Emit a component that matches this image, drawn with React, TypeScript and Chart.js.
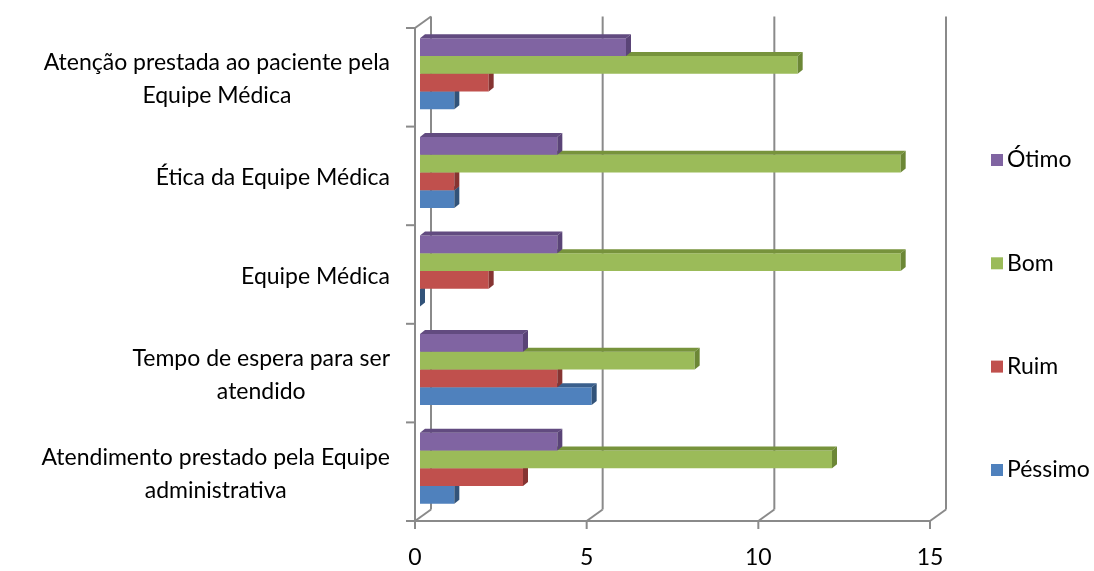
import React, { useEffect, useRef } from "react";
import { Chart, registerables } from "chart.js";

Chart.register(...registerables);

// ---- data ----
const categories: string[][] = [
  ["Atenção prestada ao paciente pela", "Equipe Médica"],
  ["Ética da Equipe Médica"],
  ["Equipe Médica"],
  ["Tempo de espera para ser", "atendido"],
  ["Atendimento prestado pela Equipe", "administrativa"],
];
const seriesNames = ["Ótimo", "Bom", "Ruim", "Péssimo"];
const otimo = [6, 4, 4, 3, 4];
const bom = [11, 14, 14, 8, 12];
const ruim = [2, 1, 2, 4, 3];
const pessimo = [1, 1, 0, 5, 1];
const xTicks = [0, 5, 10, 15];

// ---- styles ----
const frontColors = ["#8064A2", "#9BBB59", "#C0504D", "#4F81BD"];
const topColors = ["#624B80", "#77933C", "#943C3A", "#3A5F8C"];
const sideColors = ["#5A4477", "#6C8736", "#863432", "#325379"];
const FONT = "Lato";
const FONT_SIZE = 23;
const GRID = "#8a8a8a";
const FRONT = { dx: -5, dy: 3.5 };
const BACK = { dx: 11, dy: -8 };
const DEPTH = { dx: 5, dy: -4 };

const decor = {
  id: "decor3d",
  beforeDatasetsDraw(chart: any) {
    const { ctx, chartArea: ca, scales } = chart;
    const xs = scales.x;
    ctx.save();
    ctx.strokeStyle = GRID;
    ctx.lineWidth = 2;
    ctx.lineCap = "butt";
    const fTop = ca.top + FRONT.dy;
    const fBot = ca.bottom + FRONT.dy;
    const bTop = ca.top + BACK.dy;
    const bBot = ca.bottom + BACK.dy;
    const line = (x1: number, y1: number, x2: number, y2: number) => {
      ctx.beginPath();
      ctx.moveTo(x1, y1);
      ctx.lineTo(x2, y2);
      ctx.stroke();
    };
    xTicks.forEach((v) => {
      const p = xs.getPixelForValue(v);
      const fx = p + FRONT.dx;
      const bx = p + BACK.dx;
      line(bx, bTop, bx, bBot);
      line(fx, fBot, bx, bBot);
      line(fx, fBot, fx, fBot + 8);
    });
    const x0 = xs.getPixelForValue(xTicks[0]) + FRONT.dx;
    const xN = xs.getPixelForValue(xTicks[xTicks.length - 1]) + FRONT.dx;
    line(x0 - 9, fBot, xN + 1, fBot);
    line(x0, fTop - 1, x0, fBot);
    line(x0, fTop, x0 + (BACK.dx - FRONT.dx), bTop);
    const n = categories.length;
    const band = (ca.bottom - ca.top) / n;
    for (let i = 0; i <= n; i++) {
      const y = ca.top + band * i + FRONT.dy;
      line(x0 - 9, y, x0, y);
    }
    ctx.restore();
  },
  afterDatasetDraw(chart: any, args: any) {
    const { ctx } = chart;
    const idx = args.index;
    const meta = args.meta;
    ctx.save();
    meta.data.forEach((el: any) => {
      const { x, y, base, height } = el.getProps(["x", "y", "base", "height"], true);
      const top = y - height / 2;
      const bot = y + height / 2;
      const l = Math.min(x, base);
      const r = Math.max(x, base);
      ctx.fillStyle = topColors[idx];
      ctx.beginPath();
      ctx.moveTo(l, top);
      ctx.lineTo(r, top);
      ctx.lineTo(r + DEPTH.dx, top + DEPTH.dy);
      ctx.lineTo(l + DEPTH.dx, top + DEPTH.dy);
      ctx.closePath();
      ctx.fill();
      ctx.fillStyle = sideColors[idx];
      ctx.beginPath();
      ctx.moveTo(r, top);
      ctx.lineTo(r + DEPTH.dx, top + DEPTH.dy);
      ctx.lineTo(r + DEPTH.dx, bot + DEPTH.dy);
      ctx.lineTo(r, bot);
      ctx.closePath();
      ctx.fill();
    });
    ctx.restore();
  },
  afterDraw(chart: any) {
    const { ctx, chartArea: ca, scales } = chart;
    const xs = scales.x;
    const ys = scales.y;
    ctx.save();
    ctx.fillStyle = "#000000";
    ctx.font = `${FONT_SIZE}px ${FONT}`;
    ctx.textBaseline = "middle";
    ctx.textAlign = "center";
    const right = xs.getPixelForValue(0) + FRONT.dx - 25;
    const lh = 33;
    categories.forEach((lines, i) => {
      const cy = ys.getPixelForValue(i) + FRONT.dy + 2;
      const w = Math.max(...lines.map((s) => ctx.measureText(s).width));
      const cx = right - w / 2;
      const y0 = cy - ((lines.length - 1) * lh) / 2;
      lines.forEach((s, k) => ctx.fillText(s, cx, y0 + k * lh));
    });
    xTicks.forEach((v) => {
      ctx.fillText(String(v), xs.getPixelForValue(v) + FRONT.dx, ca.bottom + FRONT.dy + 37);
    });
    ctx.textAlign = "left";
    const legendYs = [160, 263.3, 366.6, 470];
    chart.data.datasets.forEach((ds: any, i: number) => {
      const ly = legendYs[i];
      ctx.fillStyle = frontColors[i];
      ctx.fillRect(991, ly - 6, 12, 12);
      ctx.fillStyle = "#000000";
      ctx.fillText(ds.label, 1007, ly);
    });
    ctx.restore();
  },
};

export default function App() {
  const ref = useRef<HTMLCanvasElement>(null);
  useEffect(() => {
    if (!ref.current) return;
    const chart = new Chart(ref.current, {
      type: "bar",
      data: {
        labels: categories,
        datasets: [otimo, bom, ruim, pessimo].map((d, i) => ({
          label: seriesNames[i],
          data: d,
          backgroundColor: frontColors[i],
          borderWidth: 0,
          categoryPercentage: 0.72,
          barPercentage: 1.0,
        })),
      },
      options: {
        indexAxis: "y",
        animation: false,
        responsive: false,
        layout: { padding: { left: 420, right: 159, top: 24.5, bottom: 53.5 } },
        scales: {
          x: { type: "linear", min: 0, max: 15, display: false },
          y: { display: false },
        },
        plugins: { legend: { display: false }, tooltip: { enabled: false } },
      },
      plugins: [decor],
    });
    return () => chart.destroy();
  }, []);
  return (
    <div style={{ position: "absolute", left: 0, top: 0, width: 1094, height: 571, background: "#fff" }}>
      <canvas ref={ref} width={1094} height={571} />
    </div>
  );
}
